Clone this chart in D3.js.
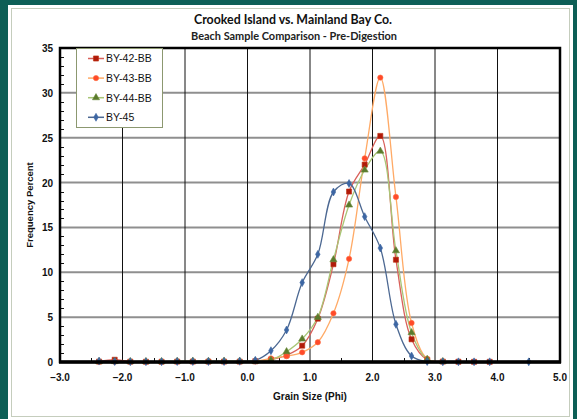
<!DOCTYPE html>
<html><head><meta charset="utf-8">
<script src="https://cdn.jsdelivr.net/npm/d3@7"></script>
<style>
html,body{margin:0;padding:0;background:#0d5f56;}
svg{display:block;}
</style></head>
<body>
<script>
// ---- data ----
const phi = [-2.375,-2.125,-1.875,-1.625,-1.375,-1.125,-0.875,-0.625,-0.375,-0.125,0.125,0.375,0.625,0.875,1.125,1.375,1.625,1.875,2.125,2.375,2.625,2.875,3.125,3.375,3.625,3.875,4.5];
const by42 = [0.05,0.25,0.04,0.03,0.03,0.05,0.05,0.05,0.05,0.05,0.08,0.25,0.75,1.82,4.83,10.9,19.0,22.0,25.2,11.4,2.53,0.25,0.05,0.03,0.02,0.02,null];
const by43 = [0.03,0.03,0.03,0.03,0.03,0.05,0.05,0.05,0.05,0.05,0.08,0.4,0.65,1.08,2.2,5.43,11.5,22.7,31.7,18.4,4.35,0.35,0.05,null,null,null,null];
const by44 = [0.05,0.05,0.05,0.05,0.05,0.08,0.1,0.08,0.1,0.1,0.1,0.22,1.15,2.56,4.98,11.4,17.5,21.4,23.5,12.4,3.27,0.3,0.05,null,null,null,null];
const by45 = [0.1,0.05,0.03,0.03,0.03,0.05,0.05,0.05,0.05,0.08,0.19,1.26,3.57,8.85,12.0,18.95,19.9,16.2,12.7,4.2,0.67,0.05,0.02,0.02,0.02,0.02,0.02];
const seriesNames = ["BY-42-BB","BY-43-BB","BY-44-BB","BY-45"];
const xTicks = [-3,-2,-1,0,1,2,3,4,5];
const yTicks = [0,5,10,15,20,25,30,35];
const titleText = "Crooked Island vs. Mainland Bay Co.";
const subtitleText = "Beach Sample Comparison - Pre-Digestion";
const xLabel = "Grain Size (Phi)";
const yLabel = "Frequency Percent";

const styles = [
  {line:"#d9605a", fill:"#b01a0a", stroke:"#c03010", sym:d3.symbolSquare, size:26},
  {line:"#ffaa66", fill:"#ff4a2a", stroke:"#ff6a3a", sym:d3.symbolCircle, size:22},
  {line:"#a9c676", fill:"#5a7a2c", stroke:"#6a8a3a", sym:d3.symbolTriangle, size:22},
  {line:"#4c6892", fill:"#3d66a3", stroke:"#3d66a3", sym:d3.symbolDiamond, size:18}
];
const seriesVals = [by42, by43, by44, by45];

const W = 577, H = 419;
const svg = d3.select("body").append("svg").attr("width",W).attr("height",H);

// panel
svg.append("rect").attr("x",8).attr("y",5).attr("width",565).attr("height",414).attr("fill","#ffffff");
svg.append("rect").attr("x",11.5).attr("y",8.5).attr("width",558).attr("height",408).attr("fill","none").attr("stroke","#c5cdbd").attr("stroke-width",1);

const L = 60, R = 560, T = 48, B = 362;
const x = d3.scaleLinear().domain([-3,5]).range([L,R]);
const y = d3.scaleLinear().domain([0,35]).range([B,T]);

// gridlines
const g = svg.append("g");
g.selectAll(".hg").data(yTicks.filter(v=>v>0&&v<35)).join("line")
  .attr("x1",L).attr("x2",R).attr("y1",d=>y(d)).attr("y2",d=>y(d))
  .attr("stroke","#8f8f8f").attr("stroke-width",2);
g.selectAll(".vg").data(xTicks.filter(v=>v>-3&&v<5)).join("line")
  .attr("x1",d=>x(d)).attr("x2",d=>x(d)).attr("y1",T).attr("y2",B)
  .attr("stroke","#111").attr("stroke-width",1);

// minor ticks
const yMinor = d3.range(1,35).filter(v=>v%5!==0);
g.selectAll(".ym").data(yMinor).join("line")
  .attr("x1",L).attr("x2",L+4).attr("y1",d=>Math.round(y(d))+0.5).attr("y2",d=>Math.round(y(d))+0.5)
  .attr("stroke","#111").attr("stroke-width",1);
const xMinor = d3.range(-2.5,5,1);
g.selectAll(".xm").data(xMinor).join("line")
  .attr("x1",d=>Math.round(x(d))+0.5).attr("x2",d=>Math.round(x(d))+0.5).attr("y1",B).attr("y2",B-4)
  .attr("stroke","#111").attr("stroke-width",1);

// series lines
const lineGen = d3.line()
  .defined(d=>d[1]!=null)
  .x(d=>x(d[0])).y(d=>y(d[1]))
  .curve(d3.curveCatmullRom.alpha(0.5));

const plot = svg.append("g");
seriesVals.forEach((vals,i)=>{
  const pts = phi.map((p,k)=>[p,vals[k]]).filter(d=>d[1]!=null);
  plot.append("path").datum(pts).attr("d",lineGen)
    .attr("fill","none").attr("stroke",styles[i].line).attr("stroke-width",1.3);
});
seriesVals.forEach((vals,i)=>{
  const pts = phi.map((p,k)=>[p,vals[k]]).filter(d=>d[1]!=null);
  plot.selectAll(".m"+i).data(pts).join("path")
    .attr("transform",d=>`translate(${x(d[0])},${y(d[1])})`)
    .attr("d",d3.symbol().type(styles[i].sym).size(styles[i].size))
    .attr("fill",styles[i].fill).attr("stroke",styles[i].stroke).attr("stroke-width",0.6);
});

// frame
svg.append("rect").attr("x",L).attr("y",T).attr("width",R-L).attr("height",B-T)
  .attr("fill","none").attr("stroke","#000").attr("stroke-width",2.5);
svg.append("line").attr("x1",L-1).attr("x2",R+1).attr("y1",B).attr("y2",B).attr("stroke","#000").attr("stroke-width",3.5);

// axes labels
svg.selectAll(".yt").data(yTicks).join("text")
  .attr("x",L-7).attr("y",d=>y(d)+4).attr("text-anchor","end")
  .attr("font-family","Liberation Sans, Arial, sans-serif").attr("font-weight","bold").attr("font-size",10)
  .attr("fill","#111").text(d=>d);
svg.selectAll(".xt").data(xTicks).join("text")
  .attr("x",d=>x(d)).attr("y",B+19).attr("text-anchor","middle")
  .attr("font-family","Liberation Sans, Arial, sans-serif").attr("font-weight","bold").attr("font-size",10)
  .attr("fill","#111").text(d=>d3.format(".1f")(d));

svg.append("text").attr("x",(L+R)/2).attr("y",B+38).attr("text-anchor","middle")
  .attr("font-family","Liberation Sans, Arial, sans-serif").attr("font-weight","bold").attr("font-size",10)
  .attr("fill","#111").text(xLabel);
svg.append("text").attr("transform",`translate(33,${(T+B)/2}) rotate(-90)`).attr("text-anchor","middle")
  .attr("font-family","Liberation Sans, Arial, sans-serif").attr("font-weight","bold").attr("font-size",9.5)
  .attr("fill","#111").text(yLabel);

// titles
svg.append("text").attr("x",293).attr("y",24).attr("text-anchor","middle")
  .attr("font-family","Lato, 'Open Sans', sans-serif").attr("font-weight","bold").attr("font-size",13)
  .attr("textLength",198).attr("lengthAdjust","spacingAndGlyphs")
  .attr("fill","#111").text(titleText);
svg.append("text").attr("x",294).attr("y",40).attr("text-anchor","middle")
  .attr("font-family","Lato, 'Open Sans', sans-serif").attr("font-weight","bold").attr("font-size",10.5)
  .attr("textLength",206).attr("lengthAdjust","spacingAndGlyphs")
  .attr("fill","#222").text(subtitleText);

// legend
const lg = svg.append("g");
lg.append("rect").attr("x",76.5).attr("y",48.5).attr("width",86).attr("height",79)
  .attr("fill","#fff").attr("stroke","#8c9870").attr("stroke-width",1);
seriesNames.forEach((name,i)=>{
  const ly = 58.5 + i*19.6;
  lg.append("line").attr("x1",88).attr("x2",104).attr("y1",ly).attr("y2",ly)
    .attr("stroke",styles[i].line).attr("stroke-width",1.5);
  lg.append("path").attr("transform",`translate(96,${ly})`)
    .attr("d",d3.symbol().type(styles[i].sym).size(styles[i].size))
    .attr("fill",styles[i].fill).attr("stroke",styles[i].stroke).attr("stroke-width",0.6);
  lg.append("text").attr("x",106).attr("y",ly+3.8)
    .attr("font-family","Liberation Sans, Arial, sans-serif").attr("font-size",10.5)
    .attr("fill","#111").text(name);
});
</script>
</body></html>
